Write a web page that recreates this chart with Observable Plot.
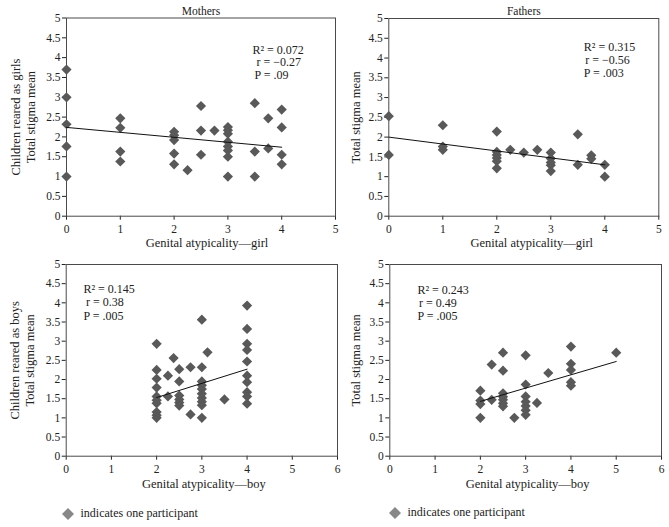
<!DOCTYPE html>
<html><head><meta charset="utf-8">
<script src="https://cdn.jsdelivr.net/npm/d3@7"></script>
<script src="https://cdn.jsdelivr.net/npm/@observablehq/plot@0.6"></script>
<style>
body{margin:0;background:#fff;}
#chart{position:relative;width:669px;height:527px;font-family:"Liberation Serif",serif;color:#222;}
.panel{position:absolute;}
.legend{position:absolute;font-size:12px;display:flex;align-items:center;white-space:nowrap;}
</style></head><body><div id="chart"></div>
<script>
// ---- data: [genital atypicality, total stigma mean] ----
const mothersGirls = [
  [0,3.7],[0,3.0],[0,2.32],[0,1.76],[0,1.0],
  [1,2.47],[1,2.23],[1,1.63],[1,1.38],
  [2,2.13],[2,2.04],[2,1.92],[2,1.58],[2,1.31],
  [2.25,1.16],
  [2.5,2.78],[2.5,2.16],[2.5,1.55],
  [2.75,2.16],
  [3,2.25],[3,2.17],[3,2.08],[3,1.88],[3,1.76],[3,1.66],[3,1.5],[3,1.0],
  [3.5,2.85],[3.5,1.63],[3.5,1.0],
  [3.75,2.47],[3.75,1.71],
  [4,2.69],[4,2.24],[4,1.55],[4,1.31]
];
const fathersGirls = [
  [0,2.53],[0,1.55],
  [1,2.3],[1,1.76],[1,1.68],
  [2,2.14],[2,1.63],[2,1.55],[2,1.47],[2,1.39],[2,1.21],
  [2.25,1.68],[2.5,1.61],[2.75,1.68],
  [3,1.61],[3,1.46],[3,1.36],[3,1.29],[3,1.14],
  [3.5,2.07],[3.5,1.3],
  [3.75,1.54],[3.75,1.45],
  [4,1.3],[4,1.0]
];
const mothersBoys = [
  [2,2.93],[2,2.25],[2,2.02],[2,1.79],[2,1.56],[2,1.46],[2,1.38],[2,1.15],[2,1.07],[2,1.0],
  [2.25,2.1],[2.25,1.56],
  [2.375,2.56],
  [2.5,2.27],[2.5,1.95],[2.5,1.58],[2.5,1.48],[2.5,1.4],[2.5,1.32],
  [2.75,2.32],[2.75,1.09],
  [3,3.56],[3,2.32],[3,1.95],[3,1.85],[3,1.75],[3,1.63],[3,1.52],[3,1.42],[3,1.33],[3,1.0],
  [3.125,2.71],
  [3.5,1.48],
  [4,3.93],[4,3.32],[4,2.93],[4,2.77],[4,2.47],[4,2.1],[4,1.93],[4,1.67],[4,1.56],[4,1.37]
];
const fathersBoys = [
  [2,1.71],[2,1.45],[2,1.36],[2,1.0],
  [2.25,2.39],[2.25,1.47],
  [2.5,2.7],[2.5,2.23],[2.5,1.64],[2.5,1.55],[2.5,1.47],[2.5,1.38],[2.5,1.3],
  [2.75,1.0],
  [3,2.63],[3,1.87],[3,1.56],[3,1.42],[3,1.31],[3,1.2],[3,1.08],
  [3.25,1.39],
  [3.5,2.17],
  [4,2.86],[4,2.41],[4,2.25],[4,1.93],[4,1.84],
  [5,2.7]
];
// ---- trend lines (endpoints) ----
const mothersGirlsFit = [[0,2.24],[4,1.74]];
const fathersGirlsFit = [[0,2.0],[4,1.3]];
const mothersBoysFit = [[2,1.53],[4,2.27]];
const fathersBoysFit = [[2,1.43],[5,2.47]];
// ---- text ----
const yTicks = [0,0.5,1,1.5,2,2.5,3,3.5,4,4.5,5];
const titles = ["Mothers","Fathers"];
const xLabels = ["Genital atypicality\u2014girl","Genital atypicality\u2014boy"];
const yLabelGirls = ["Children reared as girls","Total stigma mean"];
const yLabelBoys = ["Children reared as boys","Total stigma mean"];
const yLabelPlain = ["Total stigma mean"];
const statsMG = ["R\u00b2 = 0.072","r = \u22120.27","P = .09"];
const statsFG = ["R\u00b2 = 0.315","r = \u22120.56","P = .003"];
const statsMB = ["R\u00b2 = 0.145","r = 0.38","P = .005"];
const statsFB = ["R\u00b2 = 0.243","r = 0.49","P = .005"];
const legendText = "indicates one participant";

const chart = document.getElementById("chart");

function panel(o) {
  const marks = [
    Plot.frame({stroke: "#4a4a4a"}),
    Plot.dot(o.data, {x: d => d[0], y: d => d[1], symbol: "diamond2", r: 4.6, fill: "#595959", stroke: "none"}),
    Plot.line(o.fit, {x: d => d[0], y: d => d[1], stroke: "#111", strokeWidth: 1})
  ];
  if (o.title) marks.push(Plot.text([o.title], {text: d => d, frameAnchor: "top", textAnchor: "middle", lineAnchor: "middle", dy: o.titleDy, fontSize: 11.5}));
  marks.push(Plot.text([o.xLabel], {text: d => d, frameAnchor: "bottom", textAnchor: "middle", lineAnchor: "middle", dy: o.xLabelDy, dx: o.xLabelDx, fontSize: 12.5}));
  o.yLabels.forEach((s, i) => marks.push(Plot.text([s], {text: d => d, frameAnchor: "left", textAnchor: "middle", lineAnchor: "middle", rotate: -90, dx: o.yLabelDx[i], fontSize: 12.5})));
  o.stats.forEach((s, i) => marks.push(Plot.text([s], {text: d => d, frameAnchor: "top-left", textAnchor: "start", lineAnchor: "middle",
    dx: o.statDx + o.statOff[i], dy: o.statDy[i], fontSize: 12, ariaLabel: "stats"})));
  const svg = Plot.plot({
    width: o.width, height: o.height,
    marginLeft: o.mL, marginRight: o.mR, marginTop: o.mT, marginBottom: o.mB,
    style: {fontFamily: '"Liberation Serif", serif', fontSize: "11.5px", color: "#222", background: "transparent", overflow: "visible"},
    x: {domain: [0, o.xMax], ticks: d3.range(0, o.xMax + 1), tickSize: 4, label: null, tickFormat: d => String(d)},
    y: {domain: [0, 5], ticks: yTicks, tickSize: 4, tickPadding: 2, label: null, tickFormat: d => String(d)},
    marks
  });
  svg.classList.add("panel");
  svg.style.left = o.left + "px";
  svg.style.top = o.top + "px";
  // italicise the statistic symbol
  svg.querySelectorAll('g[aria-label="stats"] text').forEach(t => {
    const s = t.textContent;
    t.textContent = "";
    const it = document.createElementNS("http://www.w3.org/2000/svg", "tspan");
    it.setAttribute("font-style", "italic");
    it.textContent = s[0];
    t.appendChild(it);
    t.appendChild(document.createTextNode(s.slice(1)));
  });
  chart.appendChild(svg);
}

panel({data: mothersGirls, fit: mothersGirlsFit, xMax: 5, left: 0, top: 0, width: 340, height: 250,
  mL: 66, mR: 5, mT: 17.5, mB: 34.3, title: titles[0], titleDy: -7, xLabel: xLabels[0], xLabelDy: 27, xLabelDx: 6,
  yLabels: yLabelGirls, yLabelDx: [-51, -36], stats: statsMG, statDx: 186, statOff: [0, 4, 2], statDy: [32, 44.5, 57]});
panel({data: fathersGirls, fit: fathersGirlsFit, xMax: 5, left: 335, top: 0, width: 334, height: 250,
  mL: 53.3, mR: 10.7, mT: 18, mB: 34.3, title: titles[1], titleDy: -7.5, xLabel: xLabels[0], xLabelDy: 27, xLabelDx: 8,
  yLabels: yLabelPlain, yLabelDx: [-33], stats: statsFG, statDx: 195, statOff: [0, 1.5, 0], statDy: [29, 42, 55]});
panel({data: mothersBoys, fit: mothersBoysFit, xMax: 6, left: 0, top: 250, width: 340, height: 277,
  mL: 65.7, mR: 3, mT: 14, mB: 71.3, xLabel: xLabels[1], xLabelDy: 27.3, xLabelDx: 2,
  yLabels: yLabelBoys, yLabelDx: [-51, -36], stats: statsMB, statDx: 17.3, statOff: [0, 2.5, 0], statDy: [25, 38, 52]});
panel({data: fathersBoys, fit: fathersBoysFit, xMax: 6, left: 335, top: 250, width: 334, height: 277,
  mL: 54.3, mR: 8, mT: 14, mB: 71.3, xLabel: xLabels[1], xLabelDy: 27.3, xLabelDx: 2,
  yLabels: yLabelPlain, yLabelDx: [-34], stats: statsFB, statDx: 27.7, statOff: [0, 1.5, 0], statDy: [26, 39, 52]});

function legend(left, top) {
  const div = document.createElement("div");
  div.className = "legend";
  div.style.left = left + "px";
  div.style.top = top + "px";
  div.innerHTML = '<svg width="14" height="14"><polygon points="7,1 13,7 7,13 1,7" fill="#888"/></svg><span style="margin-left:5.5px">' + legendText + '</span>';
  chart.appendChild(div);
}
legend(61, 506);
legend(388, 505);
</script></body></html>
